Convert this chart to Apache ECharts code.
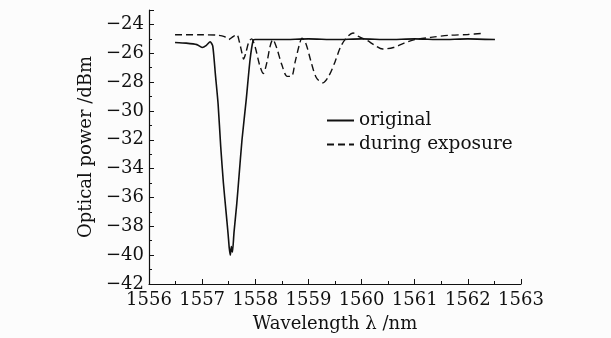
<!DOCTYPE html>
<html>
<head>
<meta charset="utf-8">
<script src="https://cdn.jsdelivr.net/npm/echarts@6/dist/echarts.min.js"></script>
<style>
  html, body { margin: 0; padding: 0; background: #fcfcfc; }
  #main { width: 611px; height: 338px; }
</style>
</head>
<body>
<div id="main"></div>
<script>
  // wavelength (nm) / optical power (dBm)
  var originalWl = [1556.49, 1556.7, 1556.9, 1557.0, 1557.08, 1557.15, 1557.2, 1557.25, 1557.3, 1557.35, 1557.4, 1557.45,
    1557.49, 1557.51, 1557.53, 1557.55, 1557.57, 1557.6, 1557.65, 1557.69, 1557.75, 1557.83, 1557.9, 1557.96, 1558.0,
    1558.5, 1559.0, 1559.5, 1560.0, 1560.5, 1561.0, 1561.5, 1562.0, 1562.51];
  var originalDbm = [-25.25, -25.3, -25.4, -25.6, -25.45, -25.2, -25.5, -27.5, -29.5, -32.5, -35.0, -37.0,
    -38.6, -39.5, -40.0, -39.4, -39.8, -38.4, -36.5, -34.7, -32.0, -29.2, -26.5, -25.1, -25.05,
    -25.05, -25.0, -25.05, -25.0, -25.05, -25.0, -25.05, -25.0, -25.05];

  var exposureWl = [1556.49, 1557.0, 1557.3, 1557.42, 1557.5, 1557.58, 1557.65, 1557.7, 1557.75, 1557.78, 1557.82,
    1557.88, 1557.93, 1558.0, 1558.08, 1558.15, 1558.22, 1558.28, 1558.33, 1558.4, 1558.5, 1558.6, 1558.68, 1558.75,
    1558.83, 1558.88, 1558.95, 1559.05, 1559.15, 1559.27, 1559.38, 1559.5, 1559.6, 1559.7, 1559.84, 1559.95, 1560.1,
    1560.25, 1560.4, 1560.6, 1560.8, 1561.0, 1561.3, 1561.66, 1562.0, 1562.28];
  var exposureDbm = [-24.72, -24.72, -24.75, -24.85, -25.05, -24.85, -24.7, -25.2, -26.0, -26.4, -26.0,
    -25.2, -25.0, -25.6, -26.8, -27.4, -26.6, -25.5, -25.05, -25.6, -26.8, -27.6, -27.6, -26.6,
    -25.4, -24.95, -25.3, -26.6, -27.7, -28.05, -27.6, -26.6, -25.6, -25.0, -24.6, -24.85, -25.1,
    -25.45, -25.7, -25.6, -25.3, -25.05, -24.9, -24.75, -24.7, -24.62];

  var seriesNames = ['original', 'during exposure'];

  function pairs(xs, ys) {
    return xs.map(function (x, i) { return [x, ys[i]]; });
  }

  var font = 'DejaVu Serif';
  var ink = '#111';

  var chart = echarts.init(document.getElementById('main'));
  chart.setOption({
    backgroundColor: '#fcfcfc',
    animation: false,
    grid: { left: 149, right: 90, top: 10, bottom: 53 },
    legend: {
      orient: 'vertical',
      left: 321,
      top: 106,
      itemWidth: 27,
      itemHeight: 10,
      itemGap: 5,
      data: seriesNames,
      itemStyle: { opacity: 0 },
      textStyle: { fontFamily: font, fontSize: 18.5, color: ink }
    },
    xAxis: {
      type: 'value',
      min: 1556,
      max: 1563,
      interval: 1,
      name: 'Wavelength λ /nm',
      nameLocation: 'middle',
      nameGap: 31,
      nameTextStyle: { fontFamily: font, fontSize: 18, color: ink },
      axisLine: { lineStyle: { color: ink, width: 1.2 } },
      axisTick: { inside: true, length: 5, lineStyle: { color: ink } },
      minorTick: { show: true, splitNumber: 2, length: 3, lineStyle: { color: ink } },
      axisLabel: {
        fontFamily: font, fontSize: 18, color: ink, margin: 7,
        formatter: function (v) { return String(v); }
      },
      splitLine: { show: false }
    },
    yAxis: {
      type: 'value',
      min: -42,
      max: -23,
      interval: 2,
      name: 'Optical power /dBm',
      nameLocation: 'middle',
      nameGap: 52,
      nameTextStyle: { fontFamily: font, fontSize: 18, color: ink },
      axisLine: { show: true, lineStyle: { color: ink, width: 1.2 } },
      axisTick: { show: true, inside: true, length: 5, lineStyle: { color: ink } },
      minorTick: { show: true, splitNumber: 2, length: 3, lineStyle: { color: ink } },
      axisLabel: {
        fontFamily: font, fontSize: 18, color: ink, margin: 5, showMaxLabel: false,
        formatter: function (v) { return String(v).replace('-', '\u2212'); }
      },
      splitLine: { show: false }
    },
    series: [
      {
        name: seriesNames[0],
        type: 'line',
        data: pairs(originalWl, originalDbm),
        showSymbol: false,
        symbol: 'none',
        smooth: 0.2,
        itemStyle: { color: ink },
        lineStyle: { color: ink, width: 1.6 }
      },
      {
        name: seriesNames[1],
        type: 'line',
        data: pairs(exposureWl, exposureDbm),
        showSymbol: false,
        symbol: 'none',
        smooth: 0.3,
        itemStyle: { color: ink },
        lineStyle: { color: ink, width: 1.4, type: [7, 4] }
      }
    ]
  });
</script>
</body>
</html>
